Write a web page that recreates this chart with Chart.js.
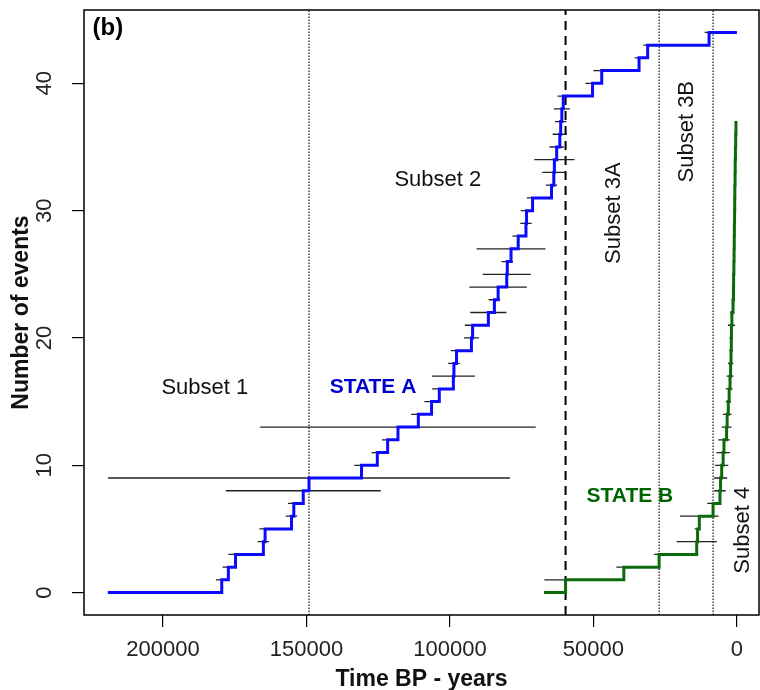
<!DOCTYPE html>
<html lang="en">
<head>
  <meta charset="UTF-8">
  <title>Number of events</title>
  <script src="https://cdn.jsdelivr.net/npm/chart.js@4"></script>
  <style>
    html, body { margin: 0; padding: 0; background: #fff; }
  </style>
</head>
<body>
  <canvas id="eventsChart" width="760" height="690"></canvas>

  <script>
    // event ages (years BP), one per step of the cumulative count
    const stateAStart = 219200
    const stateAEnd = 0
    const stateAAges = [179500, 177200, 174700, 165000, 164400, 155200, 154400, 151100, 149100, 130800,
      125300, 121700, 118100, 111000, 106400, 103700, 98800, 98600, 97700, 92500,
      92100, 86600, 84500, 83200, 80200, 80000, 78700, 76200, 73500, 73300,
      71200, 64600, 63800, 63600, 62800, 61700, 61400, 61000, 60500, 50300,
      47100, 34100, 31100, 9700]
    // half width of the dating uncertainty bar of each event (years)
    const stateAErr = [2000, 2000, 2500, 2000, 2000, 2000, 2000, 27000, 70000, 2500,
      2000, 2000, 48000, 2500, 2500, 2500, 7500, 2000, 2000, 2600,
      2700, 6300, 2000, 10000, 8400, 2000, 12000, 2000, 2000, 2000,
      2000, 2000, 4000, 7000, 2500, 2500, 2000, 2800, 2000, 2500,
      2900, 1500, 1500, 1500]

    const stateBStart = 67200
    const stateBAges = [59700, 39400, 27100, 14000, 13700, 13100, 8300, 5900, 5700, 5300,
      4800, 4500, 3600, 3400, 3000, 2700, 2400, 2200, 2050, 1950,
      1900, 1750, 1350, 1200, 1150, 1050, 980, 920, 880, 810,
      760, 720, 640, 590, 510, 420, 330]
    const stateBErr = [7400, 2600, 1700, 7000, 1000, 6700, 2000, 2000, 2300, 2300,
      2300, 2000, 1700, 1500, 900, 1200, 1200, 900, 600, 600,
      1200, 600, 500, 500, 400, 400, 400, 400, 400, 400,
      400, 400, 400, 400, 400, 400, 400]

    // subset boundaries (years BP)
    const dottedBounds = [149100, 27100, 8300]
    const dashedBounds = [59700]

    const xTickValues = [200000, 150000, 100000, 50000, 0]
    const yTickValues = [0, 10, 20, 30, 40]

    const X_MIN = -7700, X_MAX = 227500
    const Y_MIN = -1.76, Y_MAX = 45.76

    const FONT = "'Liberation Sans', Arial, Helvetica, sans-serif"

    function stepPoints(start, ages, end) {
      const pts = [{ x: start, y: 0 }]
      ages.forEach((a, i) => pts.push({ x: a, y: i + 1 }))
      if (end !== undefined) pts.push({ x: end, y: ages.length })
      return pts
    }

    function errorPoints(ages, errs) {
      const pts = []
      ages.forEach((a, i) => {
        pts.push({ x: a + errs[i], y: i + 1 })
        pts.push({ x: a - errs[i], y: i + 1 })
        pts.push({ x: a, y: null })
      })
      return pts
    }

    function verticalPoints(bounds) {
      const pts = []
      bounds.forEach(b => {
        pts.push({ x: b, y: Y_MIN })
        pts.push({ x: b, y: Y_MAX })
        pts.push({ x: b, y: null })
      })
      return pts
    }

    const notes = [
      { text: '(b)', x: 224500, y: 44.3, align: 'left', font: 'bold 24px ' + FONT, color: '#000' },
      { text: 'Subset 1', x: 185400, y: 16.1, font: '22px ' + FONT, color: '#111' },
      { text: 'STATE A', x: 126800, y: 16.1, font: 'bold 21px ' + FONT, color: '#0000cd' },
      { text: 'Subset 2', x: 104200, y: 32.4, font: '22px ' + FONT, color: '#111' },
      { text: 'Subset 3A', x: 42900, y: 29.8, rotate: true, font: '22px ' + FONT, color: '#111' },
      { text: 'Subset 3B', x: 17400, y: 36.2, rotate: true, font: '22px ' + FONT, color: '#111' },
      { text: 'STATE B', x: 37300, y: 7.6, font: 'bold 21px ' + FONT, color: '#006400' },
      { text: 'Subset 4', x: -2100, y: 4.9, rotate: true, font: '22px ' + FONT, color: '#111' }
    ]

    const notesPlugin = {
      id: 'notes',
      afterDatasetsDraw(chart) {
        const { ctx, chartArea, scales: { x, y } } = chart
        ctx.save()
        ctx.strokeStyle = '#000'
        ctx.lineWidth = 1.5
        ctx.strokeRect(chartArea.left, chartArea.top, chartArea.right - chartArea.left, chartArea.bottom - chartArea.top)
        notes.forEach(n => {
          const px = x.getPixelForValue(n.x)
          const py = y.getPixelForValue(n.y)
          ctx.font = n.font
          ctx.fillStyle = n.color
          ctx.textBaseline = 'middle'
          ctx.textAlign = n.align || 'center'
          if (n.rotate) {
            ctx.save()
            ctx.translate(px, py)
            ctx.rotate(-Math.PI / 2)
            ctx.fillText(n.text, 0, 0)
            ctx.restore()
          } else {
            ctx.fillText(n.text, px, py)
          }
        })
        ctx.restore()
      }
    }

    const ctx = document.getElementById('eventsChart').getContext('2d')
    const chart = new Chart(ctx, {
      type: 'line',
      data: {
        datasets: [
          {
            label: 'STATE A',
            data: stepPoints(stateAStart, stateAAges, stateAEnd),
            borderColor: '#0a0aff',
            borderWidth: 3,
            stepped: true,
            pointRadius: 0
          },
          {
            label: 'STATE B',
            data: stepPoints(stateBStart, stateBAges),
            borderColor: '#0b6b0b',
            borderWidth: 3,
            stepped: true,
            pointRadius: 0
          },
          {
            label: 'A errors',
            data: errorPoints(stateAAges, stateAErr),
            borderColor: '#222',
            borderWidth: 1.3,
            pointRadius: 0,
            spanGaps: false
          },
          {
            label: 'B errors',
            data: errorPoints(stateBAges, stateBErr),
            borderColor: '#222',
            borderWidth: 1.3,
            pointRadius: 0,
            spanGaps: false
          },
          {
            label: 'dashed',
            data: verticalPoints(dashedBounds),
            borderColor: '#000',
            borderWidth: 2,
            borderDash: [9, 6],
            pointRadius: 0,
            spanGaps: false
          },
          {
            label: 'dotted',
            data: verticalPoints(dottedBounds),
            borderColor: '#111',
            borderWidth: 1.2,
            borderDash: [1.5, 1.5],
            pointRadius: 0,
            spanGaps: false
          }
        ]
      },
      options: {
        responsive: false,
        animation: false,
        events: [],
        layout: { padding: { top: 10, right: 1, left: 0, bottom: 0 } },
        plugins: {
          legend: { display: false },
          tooltip: { enabled: false }
        },
        scales: {
          x: {
            type: 'linear',
            reverse: true,
            min: X_MIN,
            max: X_MAX,
            afterBuildTicks: s => { s.ticks = xTickValues.map(v => ({ value: v })) },
            afterFit: s => { s.height = 75; s.paddingLeft = 0; s.paddingRight = 0 },
            border: { display: false },
            grid: { display: true, drawOnChartArea: false, drawTicks: true, tickLength: 12, color: '#000', lineWidth: 1.2 },
            ticks: {
              callback: v => String(v),
              color: '#222',
              padding: 10,
              maxRotation: 0,
              font: { family: FONT, size: 22 }
            },
            title: {
              display: true,
              text: 'Time BP - years',
              color: '#111',
              font: { family: FONT, size: 23, weight: 'bold', lineHeight: 1 },
              padding: { top: 0, bottom: -1 }
            }
          },
          y: {
            type: 'linear',
            min: Y_MIN,
            max: Y_MAX,
            afterBuildTicks: s => { s.ticks = yTickValues.map(v => ({ value: v })) },
            afterFit: s => { s.width = 84; s.paddingTop = 0; s.paddingBottom = 0 },
            border: { display: false },
            grid: { display: true, drawOnChartArea: false, drawTicks: true, tickLength: 12, color: '#000', lineWidth: 1.2 },
            ticks: {
              callback: v => String(v),
              color: '#222',
              padding: 15,
              minRotation: 90,
              maxRotation: 90,
              crossAlign: 'center',
              font: { family: FONT, size: 22 }
            },
            title: {
              display: true,
              text: 'Number of events',
              color: '#111',
              font: { family: FONT, size: 23, weight: 'bold', lineHeight: 1 },
              padding: { top: 10, bottom: 0 }
            }
          }
        }
      },
      plugins: [notesPlugin]
    })
  </script>
</body>
</html>
